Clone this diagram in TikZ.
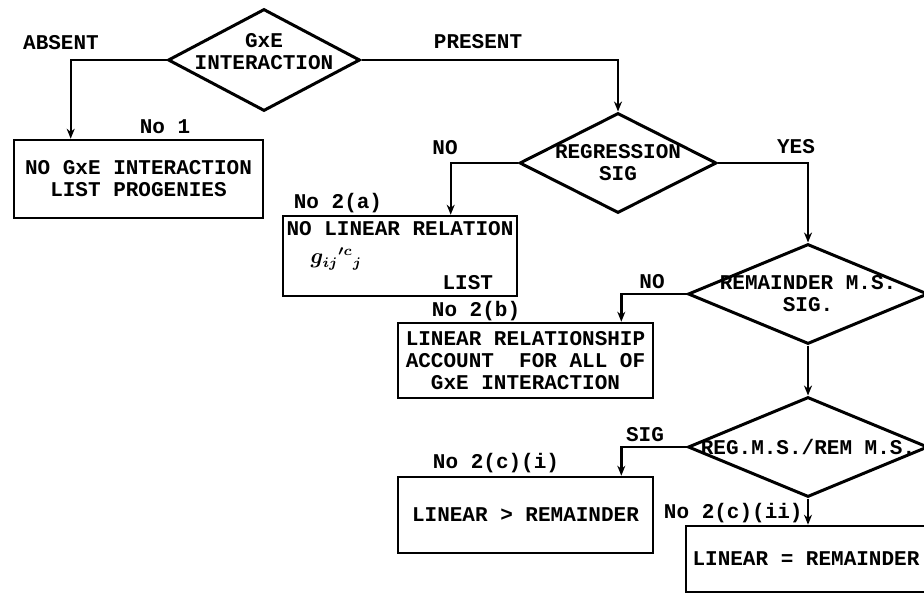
\documentclass[tikz,border=0pt]{standalone}
\usepackage{amsmath}
\usepackage{fontspec}
\setmonofont{Liberation Mono}
\usetikzlibrary{positioning, shapes.geometric, arrows.meta}

\begin{document}
\begin{tikzpicture}[x=0.5pt, y=-0.5pt, font=\ttfamily\bfseries\fontsize{10.5}{11}\selectfont, >={Stealth[length=5pt,width=4pt]},
    decision/.style={diamond, draw, line width=1.5pt, inner sep=0pt},
    outcome/.style={rectangle, draw, line width=1.3pt, align=center, inner sep=1.5pt},
    tag/.style={inner sep=1pt},
    flow/.style={->, line width=1.2pt}]
    \clip (0,0) rectangle (924,594);

    \node[decision, minimum width=96pt, minimum height=51pt, label={[align=center, yshift=4pt]center:{GxE\\INTERACTION}}] (gxe) at (264,60) {};
    \node[decision, minimum width=98.5pt, minimum height=50pt, label={[align=center]center:{REGRESSION\\SIG}}] (reg) at (618,163) {};
    \node[decision, minimum width=120pt, minimum height=50pt, label={[align=center]center:{REMAINDER M.S.\\SIG.}}] (rem) at (808,294) {};
    \node[decision, minimum width=120pt, minimum height=50pt, label={center:{REG.M.S./REM M.S.}}] (regrem) at (808,447) {};

    \node[outcome, minimum width=124.5pt, minimum height=39pt] (nogxe) at (138.5,179) {NO GxE INTERACTION\\LIST PROGENIES};
    \node[outcome, minimum width=117pt, minimum height=40pt, align=left, inner sep=0.5pt] (nolin) at (400,256) {NO LINEAR RELATION\\[3pt]\hspace*{12pt}$\boldsymbol{g_{ij}{}^{\prime c}{}_{j}}$\\[2pt]\hspace*{78pt}LIST};
    \node[outcome, minimum width=127.5pt, minimum height=37.5pt] (linall) at (525.5,360.5) {LINEAR RELATIONSHIP\\ACCOUNT~~FOR ALL OF\\GxE INTERACTION};
    \node[outcome, minimum width=127.5pt, minimum height=38pt] (lingt) at (525.5,515) {LINEAR > REMAINDER};
    \node[outcome, minimum width=120pt, minimum height=33pt] (lineq) at (806,559) {LINEAR = REMAINDER};

    \node[tag] (absent) at (61,43) {ABSENT};
    \node[tag] (present) at (478,42) {PRESENT};
    \node[tag] (no1) at (165,127) {No 1};
    \node[tag] (regno) at (445,148) {NO};
    \node[tag] (regyes) at (796,147) {YES};
    \node[tag] (no2a) at (338,203) {No 2(a)};
    \node[tag] (remno) at (652,282) {NO};
    \node[tag] (no2b) at (476,311) {No 2(b)};
    \node[tag] (sig) at (645,435) {SIG};
    \node[tag] (no2ci) at (496,463) {No 2(c)(i)};
    \node[tag, anchor=east] (no2cii) at (805,513) {No 2(c)(ii)};

    \draw[flow] (gxe.west) -| ([xshift=29pt]nogxe.north west);
    \draw[flow] (gxe.east) -| (reg.north);
    \draw[flow] (reg.west) -| ([xshift=84.5pt]nolin.north west);
    \draw[flow] (reg.east) -| (rem.north);
    \draw[flow] (rem.west) -| ([xshift=-16.5pt]linall.north east);
    \draw[flow] (rem.south) -- (regrem.north);
    \draw[flow] (regrem.west) -| ([xshift=-16.5pt]lingt.north east);
    \draw[flow] (regrem.south) -- (regrem.south |- lineq.north);
\end{tikzpicture}
\end{document}
